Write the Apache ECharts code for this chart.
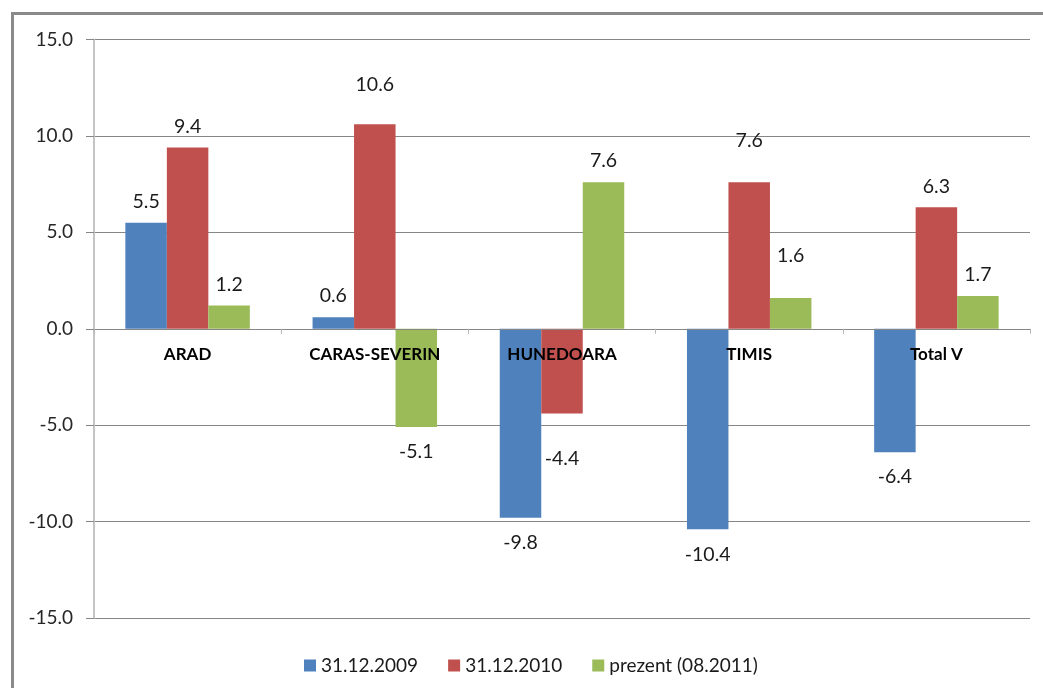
<!DOCTYPE html>
<html>
<head>
<meta charset="utf-8">
<script src="https://cdn.jsdelivr.net/npm/echarts@6/dist/echarts.min.js"></script>
<style>
    html, body { margin: 0; padding: 0; background: #fff; overflow: hidden; }
    #frame {
        position: absolute; left: 11px; top: 12px;
        width: 1200px; height: 900px;
        border: 3px solid #8a8a8a;
    }
    #chart { position: absolute; left: 0; top: 0; width: 1043px; height: 688px; }
</style>
</head>
<body>
<div id="frame"></div>
<div id="chart"></div>
<script>
    const regions = ['ARAD', 'CARAS-SEVERIN', 'HUNEDOARA', 'TIMIS', 'Total V'];
    const seriesNames = ['31.12.2009', '31.12.2010', 'prezent (08.2011)'];
    const val2009 = [5.5, 0.6, -9.8, -10.4, -6.4];
    const val2010 = [9.4, 10.6, -4.4, 7.6, 6.3];
    const valPrezent = [1.2, -5.1, 7.6, 1.6, 1.7];

    // extra room some labels get in the original (Excel moved them by hand)
    const labelLift = [
        [0, 0, 0, 0, 0],
        [0, 19, 20, 20, 0],
        [0, 0, 0, 21, 0]
    ];
    const colors = ['#4F81BD', '#C0504D', '#9BBB59'];
    const font = 'Lato, "Liberation Sans", sans-serif';

    const gridTop = 39.5, gridBottom = 70, chartH = 688;
    // category axis sits on the 0 line (middle of -15..15)
    const plotH = chartH - gridTop - gridBottom;

    const buildData = (values, lift) => values.map((v, i) => ({
        value: v,
        label: {
            position: v < 0 ? 'bottom' : 'top',
            distance: (v < 0 ? 15 : 11) + lift[i]
        }
    }));

    const mychart = echarts.init(document.getElementById('chart'));
    const allValues = [val2009, val2010, valPrezent];

    const option = {
        animation: false,
        color: colors,
        grid: { left: 94, right: 13, top: gridTop, bottom: gridBottom },
        legend: {
            data: seriesNames,
            left: 299,
            top: 651,
            icon: 'rect',
            itemWidth: 12,
            itemHeight: 12,
            itemGap: 30,
            textStyle: { fontFamily: font, fontSize: 19, color: '#1a1a1a' }
        },
        xAxis: {
            type: 'category',
            data: regions,
            z: 10,
            offset: -plotH / 2,
            axisLine: { onZero: false, lineStyle: { color: '#868686', width: 1 } },
            axisTick: { show: true, length: 5, lineStyle: { color: '#b5b5b5' } },
            axisLabel: {
                margin: 17,
                fontFamily: font,
                fontWeight: 'bold',
                fontSize: 17,
                color: '#000'
            },
            splitLine: { show: false }
        },
        yAxis: {
            type: 'value',
            min: -15,
            max: 15,
            interval: 5,
            axisLine: { show: true, lineStyle: { color: '#c4c4c4', width: 2 } },
            axisTick: { show: true, length: 8, lineStyle: { color: '#868686' } },
            axisLabel: {
                margin: 21,
                fontFamily: font,
                fontSize: 19,
                color: '#262626',
                formatter: v => v.toFixed(1)
            },
            splitLine: { lineStyle: { color: '#868686', width: 1 } }
        },
        series: seriesNames.map((name, k) => ({
            name: name,
            type: 'bar',
            data: buildData(allValues[k], labelLift[k]),
            barGap: 0,
            barCategoryGap: '33.5%',
            label: {
                show: true,
                fontFamily: font,
                fontSize: 19.5,
                color: '#1a1a1a',
                formatter: p => p.value.toFixed(1)
            }
        }))
    };

    mychart.setOption(option);
</script>
</body>
</html>
